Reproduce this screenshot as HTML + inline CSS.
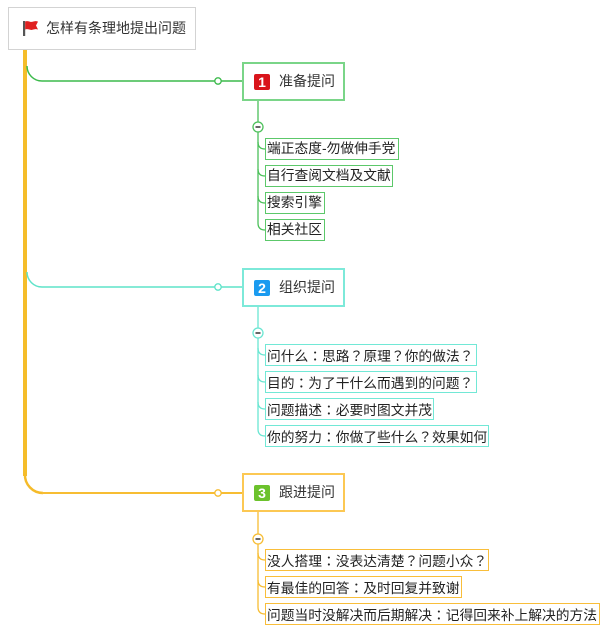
<!DOCTYPE html>
<html><head><meta charset="utf-8">
<style>
html,body{margin:0;padding:0;background:#fff;}
body{width:609px;height:632px;position:relative;overflow:hidden;font-family:"Liberation Sans","Noto Sans CJK SC",sans-serif;color:#222;}
.box{position:absolute;box-sizing:border-box;background:#fff;white-space:nowrap;}
.root{left:8px;top:7px;width:188px;height:43px;border:1.5px solid #d3d3d3;font-size:14px;line-height:40px;padding-left:37px;color:#333;}
.br{left:242px;width:103px;height:39px;border:2px solid;font-size:14px;line-height:35px;padding-left:35px;color:#333;}
.ch{left:265px;height:22px;border:1px solid;font-size:13.75px;line-height:20px;padding-left:1px;color:#222;}
.p{font-family:"Noto Sans CJK JP",sans-serif;}
.g{border-color:#5cc86a;}
.c{border-color:#72e8d6;}
.o{border-color:#f9be3a;}
.ic{position:absolute;left:10px;top:10px;width:16px;height:16px;border-radius:2px;color:#fff;font-weight:bold;font-size:14px;line-height:16px;text-align:center;font-family:"Liberation Sans",sans-serif;}
svg{position:absolute;left:0;top:0;}
</style></head><body>
<svg width="609" height="632" viewBox="0 0 609 632">
  <path d="M25 50 L25 476" stroke="#f5bd2a" stroke-width="4" fill="none"/>
  <path d="M25 474 A18 18 0 0 0 43 493" stroke="#f5bb2a" stroke-width="2.5" fill="none"/>
  <path d="M42 493 L242 493" stroke="#f7bd33" stroke-width="2" fill="none"/>
  <circle cx="218" cy="493" r="3.2" fill="#fff" stroke="#f7bd33" stroke-width="1.3"/>
  <path d="M27 66 A15 15 0 0 0 42 81 L242 81" stroke="#3cba4c" stroke-width="1.5" fill="none"/>
  <circle cx="218" cy="81" r="3.2" fill="#fff" stroke="#3cba4c" stroke-width="1.3"/>
  <path d="M27 272 A15 15 0 0 0 42 287 L242 287" stroke="#5ee3c9" stroke-width="1.5" fill="none"/>
  <circle cx="218" cy="287" r="3.2" fill="#fff" stroke="#5ee3c9" stroke-width="1.3"/>

  <g stroke="#4cc05a" stroke-width="1.3" fill="none">
    <path d="M258 101 L258 223"/>
    <path d="M258 142 Q258 149 265 149"/>
    <path d="M258 169 Q258 176 265 176"/>
    <path d="M258 196 Q258 203 265 203"/>
    <path d="M258 223 Q258 230 265 230"/>
  </g>
  <circle cx="258" cy="127" r="5" fill="#fff" stroke="#4cc05a" stroke-width="1.3"/>
  <line x1="255.5" y1="127" x2="260.5" y2="127" stroke="#333" stroke-width="1.5"/>

  <g stroke="#6ae6d2" stroke-width="1.3" fill="none">
    <path d="M258 307 L258 429"/>
    <path d="M258 348 Q258 355 265 355"/>
    <path d="M258 375 Q258 382 265 382"/>
    <path d="M258 402 Q258 409 265 409"/>
    <path d="M258 429 Q258 436 265 436"/>
  </g>
  <circle cx="258" cy="333" r="5" fill="#fff" stroke="#6ae6d2" stroke-width="1.3"/>
  <line x1="255.5" y1="333" x2="260.5" y2="333" stroke="#333" stroke-width="1.5"/>

  <g stroke="#f7bd33" stroke-width="1.3" fill="none">
    <path d="M258 512 L258 607"/>
    <path d="M258 553 Q258 560 265 560"/>
    <path d="M258 580 Q258 587 265 587"/>
    <path d="M258 607 Q258 614 265 614"/>
  </g>
  <circle cx="258" cy="539" r="5" fill="#fff" stroke="#f7bd33" stroke-width="1.3"/>
  <line x1="255.5" y1="539" x2="260.5" y2="539" stroke="#333" stroke-width="1.5"/>
</svg>

<div class="box root">怎样有条理地提出问题</div>
<svg width="20" height="20" style="left:22px;top:19px;" viewBox="0 0 20 20">
  <rect x="1" y="2" width="2.2" height="15" fill="#555"/>
  <path d="M3.2 2.5 C6 1.2 8 3.5 10.5 2.8 C12.5 2.2 14 1.8 16 2.6 L14 6.5 L16 10.5 C14 9.8 12.5 10.2 10.5 10.8 C8 11.5 6 9.4 3.2 10.5 Z" fill="#e02020"/>
</svg>

<div class="box br" style="top:62px;border-color:#7ad588;"><span class="ic" style="background:#d9141b;">1</span>准备提问</div>
<div class="box br" style="top:268px;border-color:#7de9d9;"><span class="ic" style="background:#1a9bf0;">2</span>组织提问</div>
<div class="box br" style="top:473px;border-color:#fcc853;"><span class="ic" style="background:#6cc22c;">3</span>跟进提问</div>

<div class="box ch g" style="top:138px;width:134px;">端正态度-勿做伸手党</div>
<div class="box ch g" style="top:165px;width:128px;">自行查阅文档及文献</div>
<div class="box ch g" style="top:192px;width:60px;">搜索引擎</div>
<div class="box ch g" style="top:219px;width:60px;">相关社区</div>

<div class="box ch c" style="top:344px;width:212px;">问什么<span class="p">：</span>思路<span class="p">？</span>原理<span class="p">？</span>你的做法<span class="p">？</span></div>
<div class="box ch c" style="top:371px;width:212px;">目的<span class="p">：</span>为了干什么而遇到的问题<span class="p">？</span></div>
<div class="box ch c" style="top:398px;width:169px;">问题描述<span class="p">：</span>必要时图文并茂</div>
<div class="box ch c" style="top:425px;width:224px;">你的努力<span class="p">：</span>你做了些什么<span class="p">？</span>效果如何</div>

<div class="box ch o" style="top:549px;width:224px;">没人搭理<span class="p">：</span>没表达清楚<span class="p">？</span>问题小众<span class="p">？</span></div>
<div class="box ch o" style="top:576px;width:197px;">有最佳的回答<span class="p">：</span>及时回复并致谢</div>
<div class="box ch o" style="top:603px;width:335px;">问题当时没解决而后期解决<span class="p">：</span>记得回来补上解决的方法</div>
</body></html>
